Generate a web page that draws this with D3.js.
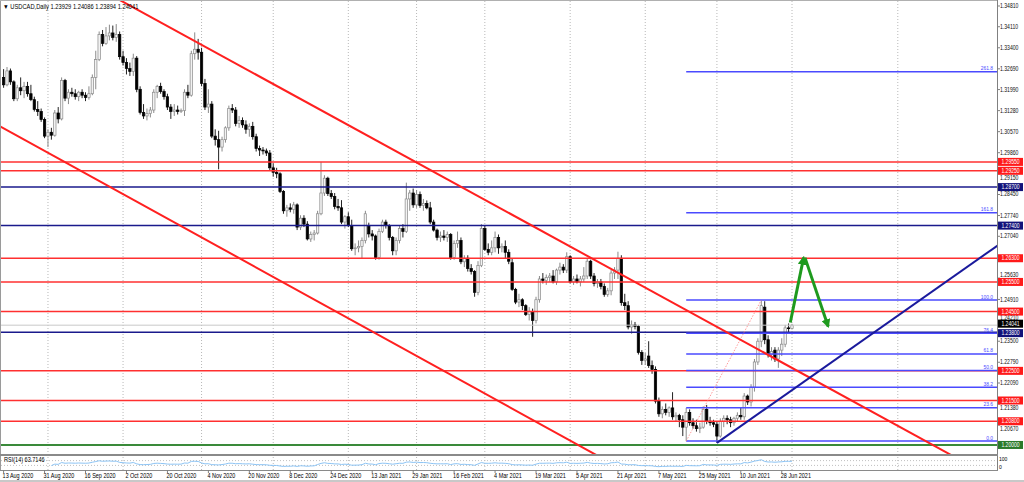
<!DOCTYPE html>
<html><head><meta charset="utf-8">
<script src="https://cdn.jsdelivr.net/npm/d3@7"></script>
<style>body{margin:0;background:#fff;overflow:hidden}text{font-family:"Liberation Sans",Arial,sans-serif}</style>
</head><body><svg id="c" width="1024" height="482"></svg>
<script>
// ---- data ----
const ohlc = [
[1.3240,1.3268,1.3205,1.3215],[1.3215,1.3275,1.3210,1.3262],[1.3262,1.3270,1.3215,1.3225],[1.3225,1.3230,1.3160,1.3168],[1.3168,1.3215,1.3160,1.3205],
[1.3205,1.3240,1.3180,1.3195],[1.3195,1.3225,1.3170,1.3210],[1.3210,1.3225,1.3175,1.3185],[1.3185,1.3215,1.3160,1.3165],[1.3165,1.3175,1.3125,1.3132],
[1.3132,1.3160,1.3110,1.3125],[1.3125,1.3135,1.3090,1.3098],[1.3098,1.3105,1.3035,1.3042],[1.3042,1.3065,1.3005,1.3055],[1.3055,1.3070,1.3030,1.3045],
[1.3045,1.3130,1.3040,1.3120],[1.3120,1.3140,1.3085,1.3100],[1.3100,1.3240,1.3095,1.3230],[1.3230,1.3235,1.3160,1.3170],[1.3170,1.3200,1.3150,1.3190],
[1.3190,1.3205,1.3175,1.3185],[1.3185,1.3200,1.3165,1.3175],[1.3175,1.3195,1.3160,1.3190],[1.3190,1.3200,1.3170,1.3180],[1.3180,1.3190,1.3160,1.3172],
[1.3172,1.3210,1.3165,1.3185],[1.3185,1.3250,1.3180,1.3240],[1.3240,1.3330,1.3200,1.3300],[1.3300,1.3395,1.3295,1.3385],[1.3385,1.3400,1.3345,1.3355],
[1.3355,1.3410,1.3350,1.3380],[1.3380,1.3418,1.3365,1.3390],[1.3390,1.3415,1.3365,1.3375],[1.3375,1.3420,1.3360,1.3385],[1.3385,1.3395,1.3300,1.3310],
[1.3310,1.3330,1.3280,1.3290],[1.3290,1.3305,1.3250,1.3270],[1.3270,1.3290,1.3245,1.3260],[1.3260,1.3320,1.3245,1.3305],[1.3305,1.3312,1.3190,1.3200],
[1.3200,1.3210,1.3115,1.3122],[1.3122,1.3150,1.3100,1.3110],[1.3110,1.3135,1.3095,1.3118],[1.3118,1.3140,1.3105,1.3130],[1.3130,1.3200,1.3120,1.3190],
[1.3190,1.3215,1.3170,1.3210],[1.3210,1.3222,1.3185,1.3192],[1.3192,1.3200,1.3165,1.3175],[1.3175,1.3185,1.3130,1.3140],[1.3140,1.3150,1.3100,1.3125],
[1.3125,1.3150,1.3110,1.3130],[1.3130,1.3145,1.3115,1.3125],[1.3125,1.3135,1.3120,1.3128],[1.3128,1.3200,1.3110,1.3190],[1.3190,1.3215,1.3170,1.3180],
[1.3180,1.3330,1.3175,1.3320],[1.3320,1.3392,1.3300,1.3335],[1.3335,1.3370,1.3300,1.3325],[1.3325,1.3340,1.3210,1.3220],[1.3220,1.3235,1.3130,1.3140],
[1.3140,1.3200,1.3120,1.3150],[1.3150,1.3160,1.3035,1.3042],[1.3042,1.3065,1.3010,1.3030],[1.3030,1.3060,1.2930,1.3005],[1.3005,1.3040,1.2990,1.3030],
[1.3030,1.3075,1.3020,1.3070],[1.3070,1.3145,1.3060,1.3135],[1.3135,1.3150,1.3120,1.3130],[1.3130,1.3140,1.3075,1.3085],[1.3085,1.3110,1.3070,1.3095],
[1.3095,1.3105,1.3070,1.3080],[1.3080,1.3095,1.3050,1.3065],[1.3065,1.3085,1.3040,1.3075],[1.3075,1.3090,1.3030,1.3040],[1.3040,1.3050,1.2990,1.3000],
[1.3000,1.3010,1.2975,1.2995],[1.2995,1.3005,1.2980,1.2992],[1.2992,1.3000,1.2975,1.2985],[1.2985,1.2995,1.2925,1.2935],[1.2935,1.2950,1.2905,1.2920],
[1.2920,1.2935,1.2900,1.2915],[1.2915,1.2920,1.2850,1.2855],[1.2855,1.2860,1.2780,1.2790],[1.2790,1.2810,1.2770,1.2800],[1.2800,1.2815,1.2785,1.2795],
[1.2795,1.2820,1.2780,1.2810],[1.2810,1.2815,1.2725,1.2735],[1.2735,1.2775,1.2725,1.2765],[1.2765,1.2775,1.2735,1.2745],[1.2745,1.2755,1.2690,1.2695],
[1.2695,1.2720,1.2685,1.2710],[1.2710,1.2725,1.2690,1.2715],[1.2715,1.2790,1.2710,1.2780],[1.2780,1.2955,1.2775,1.2850],[1.2850,1.2910,1.2840,1.2900],
[1.2900,1.2905,1.2840,1.2848],[1.2848,1.2860,1.2830,1.2838],[1.2838,1.2850,1.2795,1.2805],[1.2805,1.2830,1.2790,1.2800],[1.2800,1.2826,1.2745,1.2752],
[1.2752,1.2775,1.2730,1.2770],[1.2770,1.2785,1.2735,1.2740],[1.2740,1.2760,1.2655,1.2662],[1.2662,1.2680,1.2640,1.2665],[1.2665,1.2690,1.2650,1.2670],
[1.2670,1.2700,1.2630,1.2690],[1.2690,1.2790,1.2680,1.2780],[1.2740,1.2750,1.2700,1.2712],[1.2712,1.2725,1.2690,1.2705],[1.2705,1.2710,1.2625,1.2632],
[1.2632,1.2730,1.2625,1.2720],[1.2720,1.2760,1.2715,1.2752],[1.2752,1.2760,1.2730,1.2740],[1.2740,1.2745,1.2690,1.2700],[1.2700,1.2705,1.2640,1.2655],
[1.2655,1.2700,1.2640,1.2690],[1.2690,1.2740,1.2680,1.2730],[1.2730,1.2745,1.2700,1.2720],[1.2720,1.2885,1.2715,1.2830],[1.2830,1.2860,1.2790,1.2850],
[1.2850,1.2865,1.2800,1.2810],[1.2810,1.2860,1.2800,1.2845],[1.2845,1.2855,1.2800,1.2808],[1.2808,1.2830,1.2790,1.2815],[1.2815,1.2825,1.2795,1.2800],
[1.2800,1.2820,1.2745,1.2752],[1.2752,1.2760,1.2720,1.2725],[1.2725,1.2730,1.2690,1.2700],[1.2700,1.2720,1.2685,1.2705],[1.2705,1.2725,1.2690,1.2700],
[1.2700,1.2720,1.2685,1.2710],[1.2710,1.2715,1.2625,1.2632],[1.2632,1.2690,1.2625,1.2680],[1.2680,1.2720,1.2665,1.2690],[1.2690,1.2700,1.2610,1.2618],
[1.2618,1.2640,1.2600,1.2630],[1.2630,1.2640,1.2585,1.2595],[1.2595,1.2610,1.2575,1.2585],[1.2585,1.2590,1.2500,1.2515],[1.2515,1.2620,1.2505,1.2605],
[1.2605,1.2745,1.2600,1.2730],[1.2730,1.2740,1.2655,1.2660],[1.2660,1.2680,1.2640,1.2650],[1.2650,1.2690,1.2640,1.2665],[1.2665,1.2720,1.2650,1.2700],
[1.2700,1.2710,1.2645,1.2665],[1.2665,1.2680,1.2650,1.2670],[1.2670,1.2690,1.2630,1.2650],[1.2650,1.2660,1.2610,1.2620],[1.2615,1.2630,1.2520,1.2525],
[1.2525,1.2530,1.2475,1.2482],[1.2482,1.2510,1.2465,1.2490],[1.2490,1.2495,1.2455,1.2470],[1.2470,1.2475,1.2435,1.2440],[1.2440,1.2465,1.2420,1.2450],
[1.2450,1.2460,1.2365,1.2420],[1.2420,1.2500,1.2410,1.2490],[1.2490,1.2570,1.2480,1.2560],[1.2560,1.2580,1.2545,1.2555],[1.2555,1.2575,1.2540,1.2565],
[1.2565,1.2580,1.2550,1.2570],[1.2570,1.2590,1.2545,1.2550],[1.2550,1.2595,1.2540,1.2590],[1.2590,1.2615,1.2575,1.2600],[1.2600,1.2610,1.2580,1.2590],
[1.2590,1.2650,1.2580,1.2635],[1.2635,1.2640,1.2545,1.2550],[1.2550,1.2570,1.2540,1.2560],[1.2560,1.2575,1.2545,1.2550],[1.2550,1.2570,1.2535,1.2560],
[1.2560,1.2600,1.2550,1.2570],[1.2570,1.2630,1.2560,1.2620],[1.2620,1.2625,1.2560,1.2570],[1.2570,1.2580,1.2535,1.2545],[1.2545,1.2560,1.2530,1.2550],
[1.2550,1.2560,1.2525,1.2535],[1.2535,1.2545,1.2500,1.2508],[1.2508,1.2530,1.2500,1.2520],[1.2520,1.2590,1.2505,1.2580],[1.2580,1.2600,1.2560,1.2590],
[1.2590,1.2652,1.2560,1.2630],[1.2630,1.2640,1.2470,1.2480],[1.2480,1.2510,1.2455,1.2470],[1.2470,1.2485,1.2390,1.2398],[1.2398,1.2420,1.2375,1.2405],
[1.2405,1.2415,1.2390,1.2400],[1.2400,1.2405,1.2305,1.2312],[1.2312,1.2320,1.2270,1.2285],[1.2285,1.2310,1.2270,1.2290],[1.2300,1.2350,1.2260,1.2268],
[1.2268,1.2285,1.2240,1.2255],[1.2255,1.2265,1.2140,1.2148],[1.2148,1.2160,1.2095,1.2105],[1.2105,1.2130,1.2090,1.2120],[1.2120,1.2140,1.2100,1.2110],
[1.2110,1.2130,1.2095,1.2125],[1.2125,1.2178,1.2085,1.2095],[1.2095,1.2110,1.2080,1.2100],[1.2100,1.2105,1.2060,1.2085],[1.2085,1.2100,1.2030,1.2060],
[1.2060,1.2125,1.2013,1.2110],[1.2110,1.2120,1.2065,1.2075],[1.2075,1.2090,1.2055,1.2065],[1.2065,1.2085,1.2045,1.2055],[1.2055,1.2075,1.2040,1.2060],
[1.2060,1.2130,1.2055,1.2120],[1.2120,1.2135,1.2070,1.2080],[1.2080,1.2095,1.2065,1.2075],[1.2075,1.2085,1.2060,1.2070],[1.2070,1.2080,1.2007,1.2030],
[1.2030,1.2090,1.2025,1.2080],[1.2080,1.2100,1.2060,1.2090],[1.2090,1.2100,1.2070,1.2085],[1.2085,1.2095,1.2060,1.2075],[1.2075,1.2095,1.2065,1.2090],
[1.2090,1.2110,1.2080,1.2100],[1.2100,1.2125,1.2085,1.2095],[1.2095,1.2175,1.2085,1.2165],[1.2165,1.2170,1.2135,1.2145],[1.2145,1.2205,1.2130,1.2195],
[1.2195,1.2290,1.2180,1.2280],[1.2280,1.2360,1.2270,1.2350],[1.2350,1.2487,1.2330,1.2470],[1.2465,1.2485,1.2340,1.2355],[1.2355,1.2370,1.2295,1.2305],
[1.2305,1.2330,1.2285,1.2315],[1.2320,1.2330,1.2280,1.2290],[1.2290,1.2330,1.2260,1.2320],[1.2320,1.2360,1.2300,1.2340],[1.2340,1.2405,1.2330,1.2395],
[1.2395,1.2410,1.2375,1.2393],[1.23929,1.24086,1.23894,1.24041]
];
const dateLabels = ["13 Aug 2020","31 Aug 2020","16 Sep 2020","2 Oct 2020","20 Oct 2020","4 Nov 2020","20 Nov 2020","8 Dec 2020","24 Dec 2020","13 Jan 2021","29 Jan 2021","16 Feb 2021","4 Mar 2021","19 Mar 2021","5 Apr 2021","21 Apr 2021","7 May 2021","25 May 2021","10 Jun 2021","28 Jun 2021"];
const dateLabelBars = [0,12,24,36,48,60,72,84,96,108,120,132,144,156,168,180,192,204,216,228];
const monthGridBars = [13,35,58,79,101,121,141,166,188,209,231,262];
const priceTicks = [1.34810,1.34110,1.33400,1.32690,1.31990,1.31280,1.30570,1.29860,1.29150,1.28450,1.27740,1.27040,1.26330,1.25630,1.24910,1.24210,1.23500,1.22790,1.22090,1.21380,1.20670];
const redLevels = [1.2955,1.2925,1.2630,1.2550,1.2450,1.2250,1.2150,1.2080];
const navyLevels = [1.2870,1.2740,1.2380];
const greenLevels = [1.2000];
const fibRatios = [0,23.6,38.2,50,61.8,76.4,100,161.8,261.8];
const fibLabels = ["0.0","23.6","38.2","50.0","61.8","76.4","100.0","161.8","261.8"];
const fibLow = 1.2013, fibHigh = 1.2489, fibStartBar = 200, fibEndBar = 222;
const redChannelUpper = [[35,1.3495],[277,1.1970]];
const redChannelLower = [[-1,1.3075],[171,1.1983]];
const navyTrend = [[209,1.2007],[291,1.2671]];
const greenArrows = [[[230.5,1.2413],[234.4,1.2632]],[[234.8,1.2632],[241.6,1.2400]]];
const currentPrice = 1.24041;
const titleText = "USDCAD,Daily  1.23929 1.24086 1.23894 1.24041";
const rsiText = "RSI(14) 63.7146";
const rsiAxisLabels = ["100", "0"];
const rsiPeriod = 14;

// ---- layout ----
const svg = d3.select("#c");
const W = 1024, H = 482, axisX = 997, mainBottom = 454, rsiTop = 456, rsiBottom = 470;
const x = d3.scaleLinear().domain([0, 290]).range([3.6, 3.6 + 290 * 3.413]);
const y = d3.scaleLinear().domain([1.19695, 1.35012]).range([mainBottom, 0]);
const yr = d3.scaleLinear().domain([0, 100]).range([rsiBottom - 1, rsiTop + 1]);

function txt(g, tx, ty, s, size, fill, anchor, sx) {
  return g.append("text").attr("transform", `translate(${tx},${ty}) scale(${sx || 0.84},1)`)
    .attr("font-size", size).attr("fill", fill).attr("text-anchor", anchor || "start").text(s);
}

svg.append("rect").attr("width", W).attr("height", H).attr("fill", "#fff");
const defs = svg.append("defs");
defs.append("clipPath").attr("id", "mc").append("rect").attr("x", 1).attr("y", 1).attr("width", axisX - 1).attr("height", mainBottom - 1);
defs.append("marker").attr("id", "ah").attr("viewBox", "0 0 10 10").attr("refX", 8).attr("refY", 5)
  .attr("markerWidth", 9).attr("markerHeight", 9).attr("markerUnits", "userSpaceOnUse").attr("orient", "auto")
  .append("path").attr("d", "M0,0 L10,5 L0,10 z").attr("fill", "#1e9a1e");

// vertical grid
svg.append("g").selectAll("line").data(monthGridBars).join("line")
  .attr("x1", d => x(d)).attr("x2", d => x(d)).attr("y1", 1).attr("y2", rsiBottom)
  .attr("stroke", "#b8b8b8").attr("stroke-width", 1).attr("stroke-dasharray", "1,2");

const main = svg.append("g").attr("clip-path", "url(#mc)");

// candles
const cw = 2.4;
const cg = main.append("g");
ohlc.forEach((d, i) => {
  const [o, h, l, c] = d; const up = c >= o; const cx = x(i);
  cg.append("line").attr("x1", cx).attr("x2", cx).attr("y1", y(h)).attr("y2", y(l))
    .attr("stroke", up ? "#8a8a8a" : "#222").attr("stroke-width", 1);
  const top = y(Math.max(o, c)), bot = y(Math.min(o, c));
  cg.append("rect").attr("x", cx - cw / 2).attr("y", top).attr("width", cw).attr("height", Math.max(0.8, bot - top))
    .attr("fill", up ? "#f2f2f2" : "#000").attr("stroke", up ? "#8a8a8a" : "#000").attr("stroke-width", 0.7);
});

// current price line
main.append("line").attr("x1", 0).attr("x2", axisX).attr("y1", y(currentPrice)).attr("y2", y(currentPrice))
  .attr("stroke", "#c8c8c8").attr("stroke-width", 1);

// horizontal levels
const hl = (arr, col, w) => main.append("g").selectAll("line").data(arr).join("line")
  .attr("x1", 0).attr("x2", axisX).attr("y1", d => y(d)).attr("y2", d => y(d))
  .attr("stroke", col).attr("stroke-width", w);
hl(redLevels, "#ff3030", 1.5);
hl(navyLevels, "#1a1a8c", 1.5);
hl(greenLevels, "#3a8a3a", 2);

// fibonacci
const fibPrice = r => fibLow + (fibHigh - fibLow) * r / 100;
main.append("g").selectAll("line").data(fibRatios).join("line")
  .attr("x1", x(fibStartBar)).attr("x2", axisX).attr("y1", d => y(fibPrice(d))).attr("y2", d => y(fibPrice(d)))
  .attr("stroke", "#4a4aff").attr("stroke-width", 1.5);
const fg = svg.append("g");
fibRatios.forEach((r, i) => txt(fg, 993, y(fibPrice(r)) - 1.5, fibLabels[i], 6, "#4a4aff", "end", 0.82));
main.append("line").attr("x1", x(fibStartBar)).attr("y1", y(fibLow)).attr("x2", x(fibEndBar)).attr("y2", y(fibHigh))
  .attr("stroke", "#ff8080").attr("stroke-width", 0.8).attr("stroke-dasharray", "1.5,1.5");

// trendlines
const tline = (pts, col, w) => {
  const [[b1, p1], [b2, p2]] = pts; const s = (p2 - p1) / (b2 - b1);
  const bA = -5, bB = 295;
  main.append("line").attr("x1", x(bA)).attr("y1", y(p1 + s * (bA - b1))).attr("x2", x(bB)).attr("y2", y(p1 + s * (bB - b1)))
    .attr("stroke", col).attr("stroke-width", w);
};
tline(redChannelUpper, "#ff2020", 2);
tline(redChannelLower, "#ff2020", 2);
{
  const [[b1, p1], [b2, p2]] = navyTrend; const s = (p2 - p1) / (b2 - b1);
  main.append("line").attr("x1", x(b1)).attr("y1", y(p1)).attr("x2", x(295)).attr("y2", y(p1 + s * (295 - b1)))
    .attr("stroke", "#1a1a9c").attr("stroke-width", 2);
}

// green arrows
greenArrows.forEach(a => {
  main.append("line").attr("x1", x(a[0][0])).attr("y1", y(a[0][1])).attr("x2", x(a[1][0])).attr("y2", y(a[1][1]))
    .attr("stroke", "#1e9a1e").attr("stroke-width", 3).attr("marker-end", "url(#ah)");
});

// panel borders
svg.append("line").attr("x1", 0.5).attr("x2", 0.5).attr("y1", 0).attr("y2", rsiBottom).attr("stroke", "#9a9a9a");
svg.append("line").attr("x1", 0).attr("x2", axisX).attr("y1", 0.5).attr("y2", 0.5).attr("stroke", "#b0b0b0");
svg.append("line").attr("x1", axisX + 0.5).attr("x2", axisX + 0.5).attr("y1", 0).attr("y2", rsiBottom).attr("stroke", "#808080");
svg.append("rect").attr("x", 0).attr("y", mainBottom).attr("width", axisX + 1).attr("height", 2).attr("fill", "#8a8a8a");
svg.append("line").attr("x1", 0).attr("x2", axisX + 1).attr("y1", rsiBottom + 0.5).attr("y2", rsiBottom + 0.5).attr("stroke", "#8a8a8a");
svg.append("rect").attr("x", 0).attr("y", 480).attr("width", W).attr("height", 2).attr("fill", "#c8c8c8");

// RSI panel
const closes = ohlc.map(d => d[3]);
const rsiVals = [];
{
  let ag = 0, al = 0;
  for (let i = 1; i < closes.length; i++) {
    const ch = closes[i] - closes[i - 1], g = Math.max(ch, 0), l = Math.max(-ch, 0);
    if (i <= rsiPeriod) { ag += g / rsiPeriod; al += l / rsiPeriod; }
    else { ag = (ag * (rsiPeriod - 1) + g) / rsiPeriod; al = (al * (rsiPeriod - 1) + l) / rsiPeriod; }
    if (i >= rsiPeriod) rsiVals.push([i, al === 0 ? 100 : 100 - 100 / (1 + ag / al)]);
  }
}
[70, 30].forEach(v => svg.append("line").attr("x1", 1).attr("x2", axisX).attr("y1", yr(v)).attr("y2", yr(v))
  .attr("stroke", "#c0c0c0").attr("stroke-dasharray", "1,2"));
svg.append("path").datum(rsiVals).attr("fill", "none").attr("stroke", "#8cc4f5").attr("stroke-width", 1)
  .attr("d", d3.line().x(d => x(d[0])).y(d => yr(d[1])));
const rg = svg.append("g");
txt(rg, 4, 462, rsiText, 6.6, "#000", "start", 0.84);
txt(rg, 999, 461, rsiAxisLabels[0], 6, "#000", "start", 0.84);
txt(rg, 999, 468.5, rsiAxisLabels[1], 6, "#000", "start", 0.84);

// right price axis
const tags = [];
redLevels.forEach(p => tags.push([p, "#ff1a1a"]));
navyLevels.forEach(p => tags.push([p, "#12127a"]));
greenLevels.forEach(p => tags.push([p, "#2a7a2a"]));
tags.push([currentPrice, "#000"]);
const tagH = 8;
const ag = svg.append("g");
priceTicks.forEach(p => {
  let ty = y(p);
  ag.append("line").attr("x1", axisX).attr("x2", axisX + 3).attr("y1", ty).attr("y2", ty).attr("stroke", "#808080");
  const near = tags.map(t => y(t[0])).filter(v => Math.abs(v - ty) < tagH + 0.5);
  if (near.some(v => Math.abs(v - ty) < 3.4)) {
    const v = near.find(v => Math.abs(v - ty) < 3.4);
    if (ty < v) return;
    ty = v + tagH / 2 + 3.2;
  } else if (near.length) {
    const v = near[0];
    ty = ty < v ? v - tagH / 2 - 3.2 : v + tagH / 2 + 3.2;
  }
  txt(ag, 1000, ty + 2.1, p.toFixed(5), 6.4, "#111", "start", 0.8);
});
const tg = svg.append("g");
tags.forEach(([p, bg]) => {
  let ty = y(p);
  if (p === currentPrice) ty -= 1.5;
  if (p === 1.2380) ty += 0.8;
  tg.append("rect").attr("x", 998).attr("y", ty - tagH / 2).attr("width", 25).attr("height", tagH).attr("fill", bg);
  txt(tg, 1010.5, ty + 2.1, p.toFixed(5), 6.3, "#fff", "middle", 0.8);
});

// date axis
svg.append("g").selectAll("line").data(dateLabelBars).join("line")
  .attr("x1", d => x(d)).attr("x2", d => x(d)).attr("y1", rsiBottom).attr("y2", rsiBottom + 3).attr("stroke", "#808080");
const dg = svg.append("g");
dateLabelBars.forEach((b, i) => txt(dg, x(b) - 1, 478, dateLabels[i], 6.7, "#000", "start", 0.82));

// title
txt(svg, 3, 9, "\u25BC " + titleText, 6.7, "#000", "start", 0.86);
</script></body></html>
